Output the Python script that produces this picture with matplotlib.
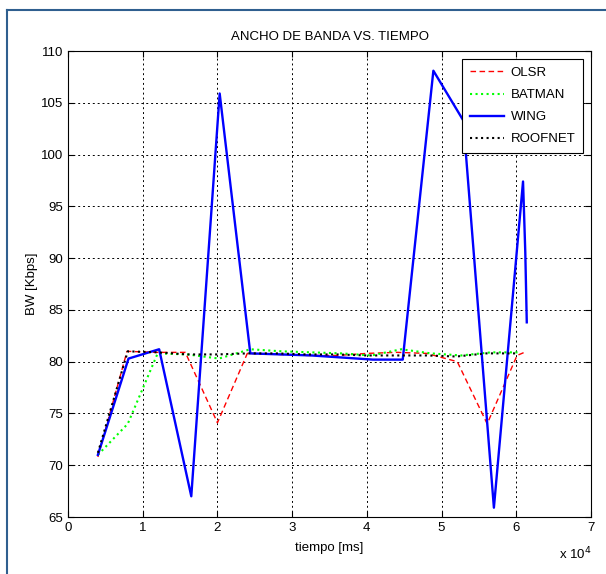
import matplotlib
matplotlib.use('Agg')
import matplotlib.pyplot as plt
from matplotlib.lines import Line2D
from matplotlib import font_manager

# fuente parecida a Arial estrecha de MATLAB
fams = [f.name for f in font_manager.fontManager.ttflist]
if 'Liberation Sans Narrow' in fams:
    plt.rcParams['font.family'] = ['Liberation Sans Narrow', 'DejaVu Sans']
    fs = 10.5
else:
    plt.rcParams['font.family'] = ['Liberation Sans', 'DejaVu Sans']
    fs = 9.5

# datos (tiempo en ms, BW en Kbps)
t_olsr = [4000, 7900, 11800, 15700, 20000, 24000, 28000, 32000, 36000, 40000,
          44000, 48000, 52100, 56100, 60100, 61400]
bw_olsr = [70.8, 81.0, 80.9, 80.9, 74.1, 80.8, 80.7, 80.6, 80.6, 80.8,
           80.9, 80.8, 80.0, 74.0, 80.6, 81.0]

t_batman = [4000, 8000, 12000, 16000, 20200, 24400, 28600, 32600, 36600, 40600,
            44600, 48600, 52600, 56600, 60600]
bw_batman = [71.0, 74.0, 80.8, 80.7, 80.3, 81.2, 81.0, 80.9, 80.8, 80.6,
             81.2, 80.8, 80.6, 80.9, 80.9]

t_wing = [4000, 8100, 12200, 16500, 20300, 24400, 28500, 32600, 36700, 40800,
          44800, 48900, 52900, 57000, 60900, 61200, 61400]
bw_wing = [71.0, 80.3, 81.2, 67.0, 105.9, 80.8, 80.7, 80.6, 80.4, 80.2,
           80.2, 108.1, 103.3, 65.9, 97.4, 90.6, 83.8]

t_roofnet = [4000, 8000, 12000, 16000, 20000, 24000, 28000, 32000, 36000, 40000,
             44000, 48000, 52000, 56000, 60000]
bw_roofnet = [71.2, 81.0, 80.9, 80.7, 80.7, 80.8, 80.8, 80.7, 80.7, 80.6,
              80.6, 80.6, 80.5, 80.8, 80.8]

xticks = [0, 10000, 20000, 30000, 40000, 50000, 60000, 70000]
xticklabels = ['0', '1', '2', '3', '4', '5', '6', '7']
yticks = [65, 70, 75, 80, 85, 90, 95, 100, 105, 110]

fig = plt.figure(figsize=(6.06, 5.74), dpi=100)
ax = fig.add_axes([0.1122, 0.0993, 0.8631, 0.8118])

ax.plot(t_olsr, bw_olsr, color='red', linestyle='--', linewidth=1.0,
        dashes=(4, 2.5), label='OLSR')
ax.plot(t_batman, bw_batman, color='#00ff00', linestyle=':', linewidth=1.5,
        label='BATMAN')
ax.plot(t_wing, bw_wing, color='blue', linestyle='-', linewidth=1.7,
        label='WING')
ax.plot(t_roofnet, bw_roofnet, color='black', linestyle=':', linewidth=1.5,
        label='ROOFNET')

ax.set_xlim(0, 70000)
ax.set_ylim(65, 110)
ax.set_xticks(xticks)
ax.set_xticklabels(xticklabels)
ax.set_yticks(yticks)
ax.tick_params(direction='in', top=True, right=True, labelsize=fs, length=4)
ax.grid(True, color='black', linestyle=(0, (2, 3)), linewidth=0.7)
for s in ax.spines.values():
    s.set_linewidth(0.8)

ax.set_title('ANCHO DE BANDA VS. TIEMPO', fontsize=fs, pad=8)
ax.set_xlabel('tiempo [ms]', fontsize=fs, labelpad=6)
ax.set_ylabel('BW [Kbps]', fontsize=fs, labelpad=2)
ax.text(1.0, -0.062, r'x 10$^4$', transform=ax.transAxes, ha='right',
        va='top', fontsize=fs)

leg = ax.legend(loc='upper right', fontsize=fs, fancybox=False,
                edgecolor='black', framealpha=1, borderaxespad=0.6,
                handlelength=2.6, handletextpad=0.5, labelspacing=0.75,
                borderpad=0.6)
leg.get_frame().set_linewidth(0.8)

# marco azul del documento
fig.add_artist(Line2D([7 / 606, 7 / 606], [0, 1 - 10 / 574], color='#2f5f8f',
                      linewidth=1.5, transform=fig.transFigure))
fig.add_artist(Line2D([7 / 606, 1], [1 - 10 / 574, 1 - 10 / 574], color='#2f5f8f',
                      linewidth=1.5, transform=fig.transFigure))

fig.savefig('out.png', dpi=100)
